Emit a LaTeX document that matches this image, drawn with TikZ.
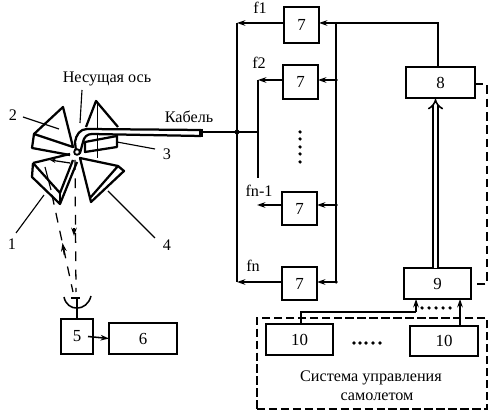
\documentclass[tikz,border=0pt]{standalone}
\usepackage{fontspec}
\setmainfont{Liberation Serif}
\usetikzlibrary{calc,positioning,arrows.meta}

\begin{document}
\begin{tikzpicture}[
        x=0.025cm, y=-0.025cm,
        blockbox/.style={draw, line width=1.7pt, inner sep=0pt, outer sep=0pt, font=\fontsize{12}{14}\selectfont},
        wire/.style={line width=1.1pt},
        wirearrow/.style={-{Stealth[length=6pt,width=4pt]}, line width=1.1pt},
        bigarrow/.style={double, double distance=2.6pt, line width=1.1pt, -{Implies}},
        feedback/.style={dash pattern=on 6pt off 3.5pt, line width=1.1pt},
        frameline/.style={draw, dash pattern=on 6pt off 2.5pt, line width=1.8pt},
        beam/.style={dash pattern=on 7pt off 6pt, line width=0.9pt},
        leader/.style={line width=0.8pt},
        antenna/.style={line width=1.6pt, line join=round},
        junction/.style={circle, fill, inner sep=0pt, minimum size=3.5pt},
        label/.style={font=\fontsize{11.5}{13}\selectfont, inner sep=0pt}
    ]
    \useasboundingbox (0,0) rectangle (492,411);

    % --- BLOCKS ---
    \node[blockbox, minimum width=0.875cm, minimum height=0.9cm] (sevenA) at (301.5,25) {7};
    \node[blockbox, minimum width=0.875cm, minimum height=0.85cm] (sevenB) at (300.5,82) {7};
    \node[blockbox, minimum width=0.875cm, minimum height=0.825cm] (sevenC) at (299.5,208.5) {7};
    \node[blockbox, minimum width=0.875cm, minimum height=0.825cm] (sevenD) at (299.5,283.5) {7};
    \node[blockbox, minimum width=1.725cm, minimum height=0.775cm] (eight) at (440.5,82.5) {8};
    \node[blockbox, minimum width=1.675cm, minimum height=0.775cm] (nine) at (437.5,283.5) {9};
    \node[blockbox, minimum width=1.675cm, minimum height=0.775cm] (tenA) at (299.5,339.5) {10};
    \node[blockbox, minimum width=1.7cm, minimum height=0.75cm] (tenB) at (444,341) {10};
    \node[blockbox, minimum width=0.8cm, minimum height=0.875cm] (five) at (77,336.5) {5};
    \node[blockbox, minimum width=1.7cm, minimum height=0.775cm] (six) at (143,338.5) {6};

    % --- FRAME ---
    \node[frameline, minimum width=5.75cm, minimum height=2.275cm, inner sep=0pt] (frame) at (372,363.5) {};
    \node[label] (sysA) at (371,378) {Система управления};
    \node[label] (sysB) at (377,397) {самолетом};

    % --- BUSES ---
    \coordinate (cableEnd) at (201,132);
    \coordinate (tapL) at (237,132);
    \coordinate (tapM) at (258,132);
    \coordinate (railLtop) at (237,23);
    \coordinate (railLbot) at (237,282);
    \coordinate (railMtop) at (258,80);
    \coordinate (railMbot) at (258,178);
    \coordinate (railMstub) at (257,205);
    \coordinate (railRtop) at (336,23);
    \coordinate (railRb) at (336,80);
    \coordinate (railRc) at (336,205);
    \coordinate (railRd) at (336,282);
    \coordinate (feedTop) at (438,23);

    \draw[wire] (cableEnd) -- (tapM);
    \draw[wire] (railLtop) -- (railLbot);
    \draw[wire] (railMbot) -- (railMtop);
    \draw[wire] (railRtop) -- (railRd);
    \node[junction] (dotL) at (tapL) {};

    % --- BLOCKS 7 ---
    \foreach \name/\railL/\railR in {sevenA/railLtop/railRtop, sevenB/railMtop/railRb, sevenC/railMstub/railRc, sevenD/railLbot/railRd} {
        \draw[wirearrow] (\railR) -- (\name.east |- \railR);
        \draw[wirearrow] (\name.west |- \railL) -- (\railL);
    }
    \foreach \railR in {railRb,railRc,railRd} {
        \node[junction, minimum size=2.5pt] at (\railR) {};
    }
    \draw[wire] (eight.north -| feedTop) -- (feedTop) -- (railRtop);

    % --- 8, 9, 10 ---
    \coordinate (dblBot) at (435.5,268);
    \coordinate (dblTop) at (435.5,99);
    \draw[bigarrow] (dblBot) -- (dblTop);
    \coordinate (fbA) at (487,84);
    \coordinate (fbB) at (487,284);
    \draw[feedback] (eight.east |- fbA) -- (fbA) -- (fbB) -- (nine.east |- fbB);

    \coordinate (elbowA) at (301,312);
    \coordinate (elbowB) at (416,312);
    \coordinate (riseB) at (460,326);
    \draw[wire] (tenA.north -| elbowA) -- (elbowA) -- (elbowB);
    \draw[wirearrow] (elbowB) -- (nine.south -| elbowB);
    \draw[wirearrow] (riseB) -- (nine.south -| riseB);

    % --- RECEIVER ---
    \draw[wirearrow] ($(five.east)+(-5,0)$) -- (six.west);
    \coordinate (feed) at (77,298);
    \draw[wire] (five.north) -- (feed);
    \draw[line width=1.6pt] (71,298) -- (80,298);
    \draw[line width=1.1pt] (64,297) .. controls (67,312) and (87,312) .. (91,296);

    % --- ANTENNA ---
    \draw[antenna] (63,107) -- (34,134) -- (73,147) -- cycle;
    \draw[antenna] (34,134) -- (32,148) -- (70,155);
    \draw[antenna] (86,127) -- (96,101) -- (118,127);
    \draw[antenna] (85,142) -- (117,136) -- (117,147) -- (85,152) -- cycle;
    \draw[line width=0.4pt] (97,101) -- (97,158);
    \draw[antenna] (33,163) -- (70,154);
    \draw[antenna] (33,163) -- (32,177) -- (60,204) -- (77,162);
    \draw[antenna] (33,163) -- (60,193) -- (73,160);
    \draw[antenna] (60,193) -- (60,204);
    \draw[line width=0.9pt, -{Stealth[length=4pt,width=3pt]}] (70,163) -- (50,160);
    \draw[antenna] (118,166) -- (80,158) -- (90,198) -- cycle;
    \draw[antenna] (118,166) -- (124,171) -- (91,202) -- (90,198);
    % cable
    \draw[antenna, fill=white] (201,130) -- (87,129) .. controls (80,129) and (76,135) .. (75,142) -- (76,151)
        -- (80,153) -- (83,142) .. controls (84,137) and (87,134) .. (92,134) -- (201,136);
    \draw[line width=2.2pt] (201,129) -- (201,137);
    \node[circle, draw, fill=white, line width=1.3pt, inner sep=0pt, minimum size=4pt] (hub) at (77,152) {};

    % --- BEAMS ---
    \draw[line width=0.8pt] (45,167) -- (51,190);
    \coordinate (beamAtop) at (75,160);
    \coordinate (beamAbot) at (76,292);
    \coordinate (beamBtop) at (52,195);
    \coordinate (beamBbot) at (73,292);
    \draw[beam] (beamAtop) -- (beamAbot);
    \draw[beam] (beamBtop) -- (beamBbot);
    \draw[wirearrow] (74,228) -- (74,236);
    \draw[wirearrow] (64.5,255) -- (62.5,243);

    % --- LABELS ---
    \draw[leader] (23,117) -- (59,129);
    \draw[leader] (117,142) -- (155,149);
    \draw[leader] (82,90) -- (80,123);
    \draw[leader] (44,195) -- (16,233);
    \draw[leader] (108,191) -- (155,238);

    \node[label] (lblA) at (12,244) {1};
    \node[label] (lblB) at (13,115) {2};
    \node[label] (lblC) at (167,154) {3};
    \node[label] (lblD) at (167,245) {4};
    \node[label] (lblAxis) at (107,79) {Несущая ось};
    \node[label] (lblCable) at (189,117) {Кабель};
    \node[label] (fA) at (260,8) {f1};
    \node[label] (fB) at (259,63) {f2};
    \node[label] (fC) at (259,191) {fn-1};
    \node[label] (fD) at (253,266) {fn};

    \foreach \y in {132,139,147,154,162} {
        \node[junction, minimum size=2.5pt] at (300,\y) {};
    }
    \foreach \x in {422,429,436,443,450} {
        \node[junction, minimum size=2.5pt] at (\x,308) {};
    }
    \foreach \x in {354,360,366,373,380} {
        \node[junction, minimum size=2.5pt] at (\x,343) {};
    }
\end{tikzpicture}
\end{document}
